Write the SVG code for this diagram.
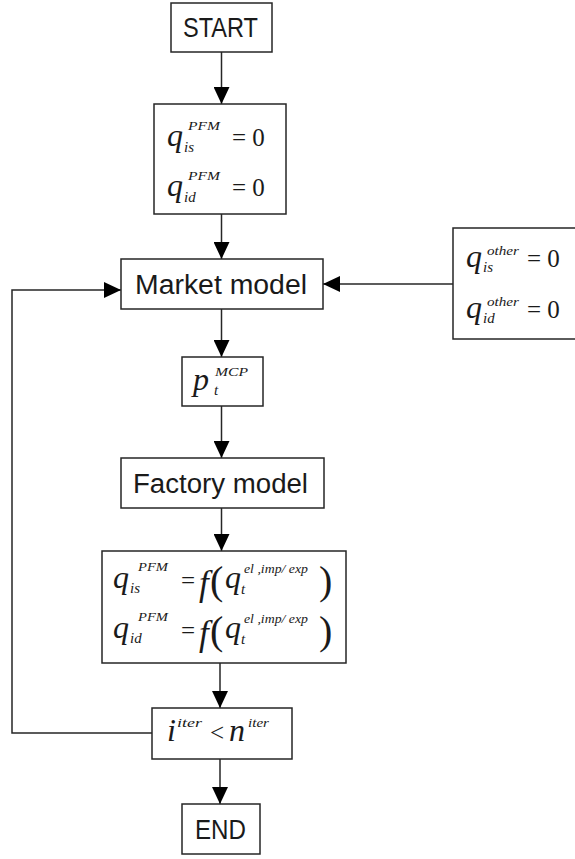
<svg xmlns="http://www.w3.org/2000/svg" width="575" height="859" viewBox="0 0 575 859">
  <style>
    .box { fill: #ffffff; stroke: #262626; stroke-width: 1.5; }
    .conn { fill: none; stroke: #262626; stroke-width: 1.5; }
    .lbl { font-family: "Liberation Sans", "Open Sans", sans-serif; font-size: 27px; fill: #1a1a1a; }
    .m { font-family: "Liberation Serif", "DejaVu Serif", serif; font-style: italic; fill: #1a1a1a; }
    .mr { font-family: "Liberation Serif", "DejaVu Serif", serif; fill: #1a1a1a; }
    .big { font-size: 32px; }
    .fn { font-size: 35px; }
    .par { font-size: 40px; }
    .num { font-size: 25px; }
    .sup { font-size: 13px; }
    .sub { font-size: 15px; }
  </style>
  <defs>
    <marker id="arrow" viewBox="0 0 17 16" refX="17" refY="8" markerWidth="17" markerHeight="16" orient="auto" markerUnits="userSpaceOnUse">
      <path d="M0,0 L17,8 L0,16 z" fill="#000000"/>
    </marker>
  </defs>

  <rect width="575" height="859" fill="#ffffff"/>

  <!-- connectors -->
  <g id="connectors">
    <line class="conn" x1="221.5" y1="52" x2="221.5" y2="104" marker-end="url(#arrow)"/>
    <line class="conn" x1="221.5" y1="214" x2="221.5" y2="259" marker-end="url(#arrow)"/>
    <line class="conn" x1="453" y1="284" x2="323" y2="284" marker-end="url(#arrow)"/>
    <line class="conn" x1="221.5" y1="309" x2="221.5" y2="357" marker-end="url(#arrow)"/>
    <line class="conn" x1="221.5" y1="406" x2="221.5" y2="458" marker-end="url(#arrow)"/>
    <line class="conn" x1="221.5" y1="508" x2="221.5" y2="551" marker-end="url(#arrow)"/>
    <line class="conn" x1="220" y1="663" x2="220" y2="708" marker-end="url(#arrow)"/>
    <line class="conn" x1="220" y1="759" x2="220" y2="804" marker-end="url(#arrow)"/>
    <polyline class="conn" points="152,733 12,733 12,290 121,290" marker-end="url(#arrow)"/>
  </g>

  <!-- START -->
  <g id="start">
    <rect class="box" x="171" y="3" width="101" height="49"/>
    <text class="lbl" x="183" y="37" textLength="75" lengthAdjust="spacingAndGlyphs">START</text>
  </g>

  <!-- initial plant quantities -->
  <g id="init-pfm">
    <rect class="box" x="154" y="104" width="132" height="110"/>
    <text class="m big" x="167" y="146">q</text>
    <text class="m sup" x="188" y="130" textLength="32" lengthAdjust="spacingAndGlyphs">PFM</text>
    <text class="m sub" x="184" y="152">is</text>
    <text class="mr num" x="232" y="146">= 0</text>
    <text class="m big" x="167" y="196">q</text>
    <text class="m sup" x="188" y="180" textLength="32" lengthAdjust="spacingAndGlyphs">PFM</text>
    <text class="m sub" x="184" y="202">id</text>
    <text class="mr num" x="232" y="196">= 0</text>
  </g>

  <!-- Market model -->
  <g id="market-model">
    <rect class="box" x="121" y="259" width="202" height="50"/>
    <text class="lbl" x="135" y="294" textLength="172" lengthAdjust="spacingAndGlyphs">Market model</text>
  </g>

  <!-- other participants' quantities -->
  <g id="init-other">
    <rect class="box" x="453" y="228" width="150" height="111"/>
    <text class="m big" x="466" y="267">q</text>
    <text class="m sup" x="487" y="255" textLength="32" lengthAdjust="spacingAndGlyphs">other</text>
    <text class="m sub" x="483" y="272">is</text>
    <text class="mr num" x="527" y="267">= 0</text>
    <text class="m big" x="466" y="318">q</text>
    <text class="m sup" x="487" y="306" textLength="32" lengthAdjust="spacingAndGlyphs">other</text>
    <text class="m sub" x="483" y="323">id</text>
    <text class="mr num" x="527" y="318">= 0</text>
  </g>

  <!-- market clearing price -->
  <g id="price">
    <rect class="box" x="182" y="357" width="81" height="49"/>
    <text class="m big" x="193" y="390">p</text>
    <text class="m sup" x="215" y="376" textLength="33" lengthAdjust="spacingAndGlyphs">MCP</text>
    <text class="m sub" x="214" y="395">t</text>
  </g>

  <!-- Factory model -->
  <g id="factory-model">
    <rect class="box" x="121" y="458" width="203" height="50"/>
    <text class="lbl" x="133" y="493" textLength="175" lengthAdjust="spacingAndGlyphs">Factory model</text>
  </g>

  <!-- plant quantities from factory result -->
  <g id="pfm-update">
    <rect class="box" x="102" y="551" width="244" height="112"/>
    <text class="m big" x="113" y="588">q</text>
    <text class="m sup" x="138" y="571" textLength="30" lengthAdjust="spacingAndGlyphs">PFM</text>
    <text class="m sub" x="130" y="593">is</text>
    <text class="mr num" x="181" y="589">=</text>
    <text class="m fn" x="199" y="595">f</text>
    <text class="mr par" x="210" y="594">(</text>
    <text class="m big" x="225" y="588">q</text>
    <text class="m sup" x="244" y="573" textLength="64" lengthAdjust="spacingAndGlyphs">el ,imp/ exp</text>
    <text class="m sub" x="241" y="594">t</text>
    <text class="mr par" x="319" y="594">)</text>

    <text class="m big" x="113" y="638">q</text>
    <text class="m sup" x="138" y="621" textLength="30" lengthAdjust="spacingAndGlyphs">PFM</text>
    <text class="m sub" x="130" y="643">id</text>
    <text class="mr num" x="181" y="639">=</text>
    <text class="m fn" x="199" y="645">f</text>
    <text class="mr par" x="210" y="644">(</text>
    <text class="m big" x="225" y="638">q</text>
    <text class="m sup" x="244" y="623" textLength="64" lengthAdjust="spacingAndGlyphs">el ,imp/ exp</text>
    <text class="m sub" x="241" y="644">t</text>
    <text class="mr par" x="319" y="644">)</text>
  </g>

  <!-- iteration check -->
  <g id="iteration-check">
    <rect class="box" x="152" y="708" width="140" height="51"/>
    <text class="m big" x="167" y="741">i</text>
    <text class="m sup" x="177" y="727" textLength="25" lengthAdjust="spacingAndGlyphs">iter</text>
    <text class="mr num" x="210" y="741">&lt;</text>
    <text class="m big" x="229" y="741">n</text>
    <text class="m sup" x="248" y="727" textLength="21" lengthAdjust="spacingAndGlyphs">iter</text>
  </g>

  <!-- END -->
  <g id="end">
    <rect class="box" x="182" y="804" width="78" height="50"/>
    <text class="lbl" x="195" y="839" textLength="51" lengthAdjust="spacingAndGlyphs">END</text>
  </g>
</svg>
